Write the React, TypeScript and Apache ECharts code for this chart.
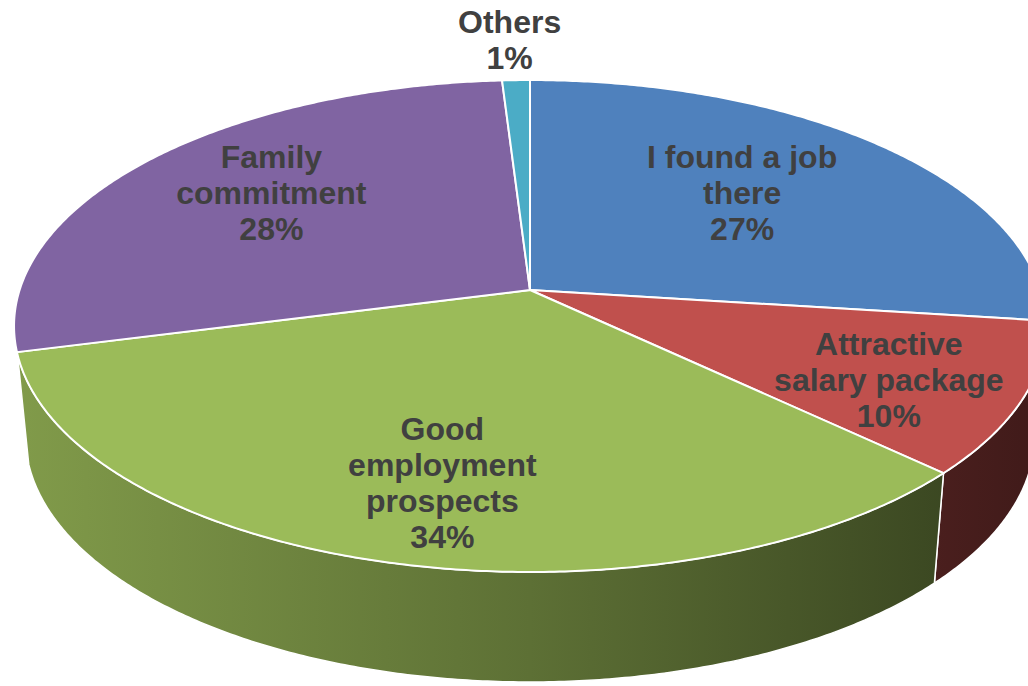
import React, { useEffect, useRef } from 'react';
import * as echarts from 'echarts';

// ---- data ----
const categories = [
  'I found a job there',
  'Attractive salary package',
  'Good employment prospects',
  'Family commitment',
  'Others',
];
const labelLines = [
  ['I found a job', 'there'],
  ['Attractive', 'salary package'],
  ['Good', 'employment', 'prospects'],
  ['Family', 'commitment'],
  ['Others'],
];
const values = [27, 10, 34, 28, 1];
const colors = ['#4F81BD', '#C0504D', '#9BBB59', '#8064A2', '#4BACC6'];

// ---- layout (3D projection of the pie) ----
const CX = 530;
const CY = 290;
const RY = 240.7;
const RX = 510.4;
const K = 0.1464; // perspective factor
const DEPTH = 110;
const BOTTOM_SHRINK = 0.978;
const WALL_MARGIN = (6.5 * Math.PI) / 180;
const labelRadius = [0.65, 0.8, 0.7, 0.7, 1.2];
const labelNudge = [
  [-22, 0],
  [-30, 4],
  [11, 12],
  [14, -4],
  [-4, -4],
];

function proj(theta: number, f: number): number[] {
  const u = Math.sin(theta) * f;
  const v = Math.cos(theta) * f;
  const s = 1 + K * v;
  return [CX + (RX * u) / s, CY - (RY * v) / s];
}

function shade(hex: string, f: number): string {
  const n = parseInt(hex.slice(1), 16);
  const r = Math.round(((n >> 16) & 255) * f);
  const g = Math.round(((n >> 8) & 255) * f);
  const b = Math.round((n & 255) * f);
  return `rgb(${r},${g},${b})`;
}

export default function App() {
  const ref = useRef<HTMLDivElement>(null);
  useEffect(() => {
    const chart = echarts.init(ref.current!, null, { renderer: 'svg' });
    const total = values.reduce((a, b) => a + b, 0);
    const starts: number[] = [];
    let acc = 0;
    values.forEach((v) => {
      starts.push((acc / total) * 2 * Math.PI);
      acc += v;
    });
    const ends = values.map((v, i) => starts[i] + (v / total) * 2 * Math.PI);
    const ts1 = Math.acos(-K) + WALL_MARGIN;
    const ts2 = 2 * Math.PI - ts1;
    const xMin = CX - RX / Math.sqrt(1 - K * K);
    const xMax = CX + RX / Math.sqrt(1 - K * K);

    const arcPoints = (t0: number, t1: number, f: number) => {
      const n = Math.max(2, Math.ceil((t1 - t0) / (Math.PI / 360)));
      const pts: number[][] = [];
      for (let j = 0; j <= n; j++) pts.push(proj(t0 + ((t1 - t0) * j) / n, f));
      return pts;
    };

    const wallRender = (params: any) => {
      const i = params.dataIndex;
      const t0 = Math.max(starts[i], ts1);
      const t1 = Math.min(ends[i], ts2);
      if (t1 <= t0) return null;
      const top = arcPoints(t0, t1, 1);
      const bot = top
        .map((p) => [CX + (p[0] - CX) * BOTTOM_SHRINK, p[1] + DEPTH])
        .reverse();
      const c = colors[i];
      return {
        type: 'polygon',
        shape: { points: top.concat(bot) },
        style: {
          fill: new echarts.graphic.LinearGradient(
            xMin, 0, xMax, 0,
            [
              { offset: 0, color: shade(c, 0.83) },
              { offset: 0.5, color: shade(c, 0.6) },
              { offset: 1, color: shade(c, 0.33) },
            ],
            true
          ),
          stroke: '#ffffff',
          lineWidth: 1.5,
          lineJoin: 'round',
        },
      };
    };

    const topRender = (params: any) => {
      const i = params.dataIndex;
      const pts = [[CX, CY]].concat(arcPoints(starts[i], ends[i], 1));
      return {
        type: 'polygon',
        shape: { points: pts },
        style: { fill: colors[i], stroke: '#ffffff', lineWidth: 2, lineJoin: 'round' },
      };
    };

    const labelRender = (params: any) => {
      const i = params.dataIndex;
      const mid = (starts[i] + ends[i]) / 2;
      const p = proj(mid, labelRadius[i]);
      const pct = Math.round((values[i] / total) * 100);
      return {
        type: 'text',
        style: {
          text: labelLines[i].concat([pct + '%']).join('\n'),
          x: p[0] + labelNudge[i][0],
          y: p[1] + labelNudge[i][1],
          align: 'center',
          verticalAlign: 'middle',
          fill: '#404040',
          fontSize: 32,
          fontWeight: 'bold',
          fontFamily: '"Liberation Sans", Arial, sans-serif',
          lineHeight: 36,
        },
      };
    };

    const seriesData = values.map((v, i) => ({ name: categories[i], value: v }));

    chart.setOption({
      animation: false,
      series: [
        { type: 'custom', coordinateSystem: 'none', data: seriesData, renderItem: wallRender, silent: true },
        { type: 'custom', coordinateSystem: 'none', data: seriesData, renderItem: topRender, silent: true },
        { type: 'custom', coordinateSystem: 'none', data: seriesData, renderItem: labelRender, silent: true },
      ],
    });
    return () => chart.dispose();
  }, []);
  return (
    <div
      ref={ref}
      style={{ position: 'fixed', left: 0, top: 0, width: 1028, height: 686, background: '#ffffff' }}
    />
  );
}
